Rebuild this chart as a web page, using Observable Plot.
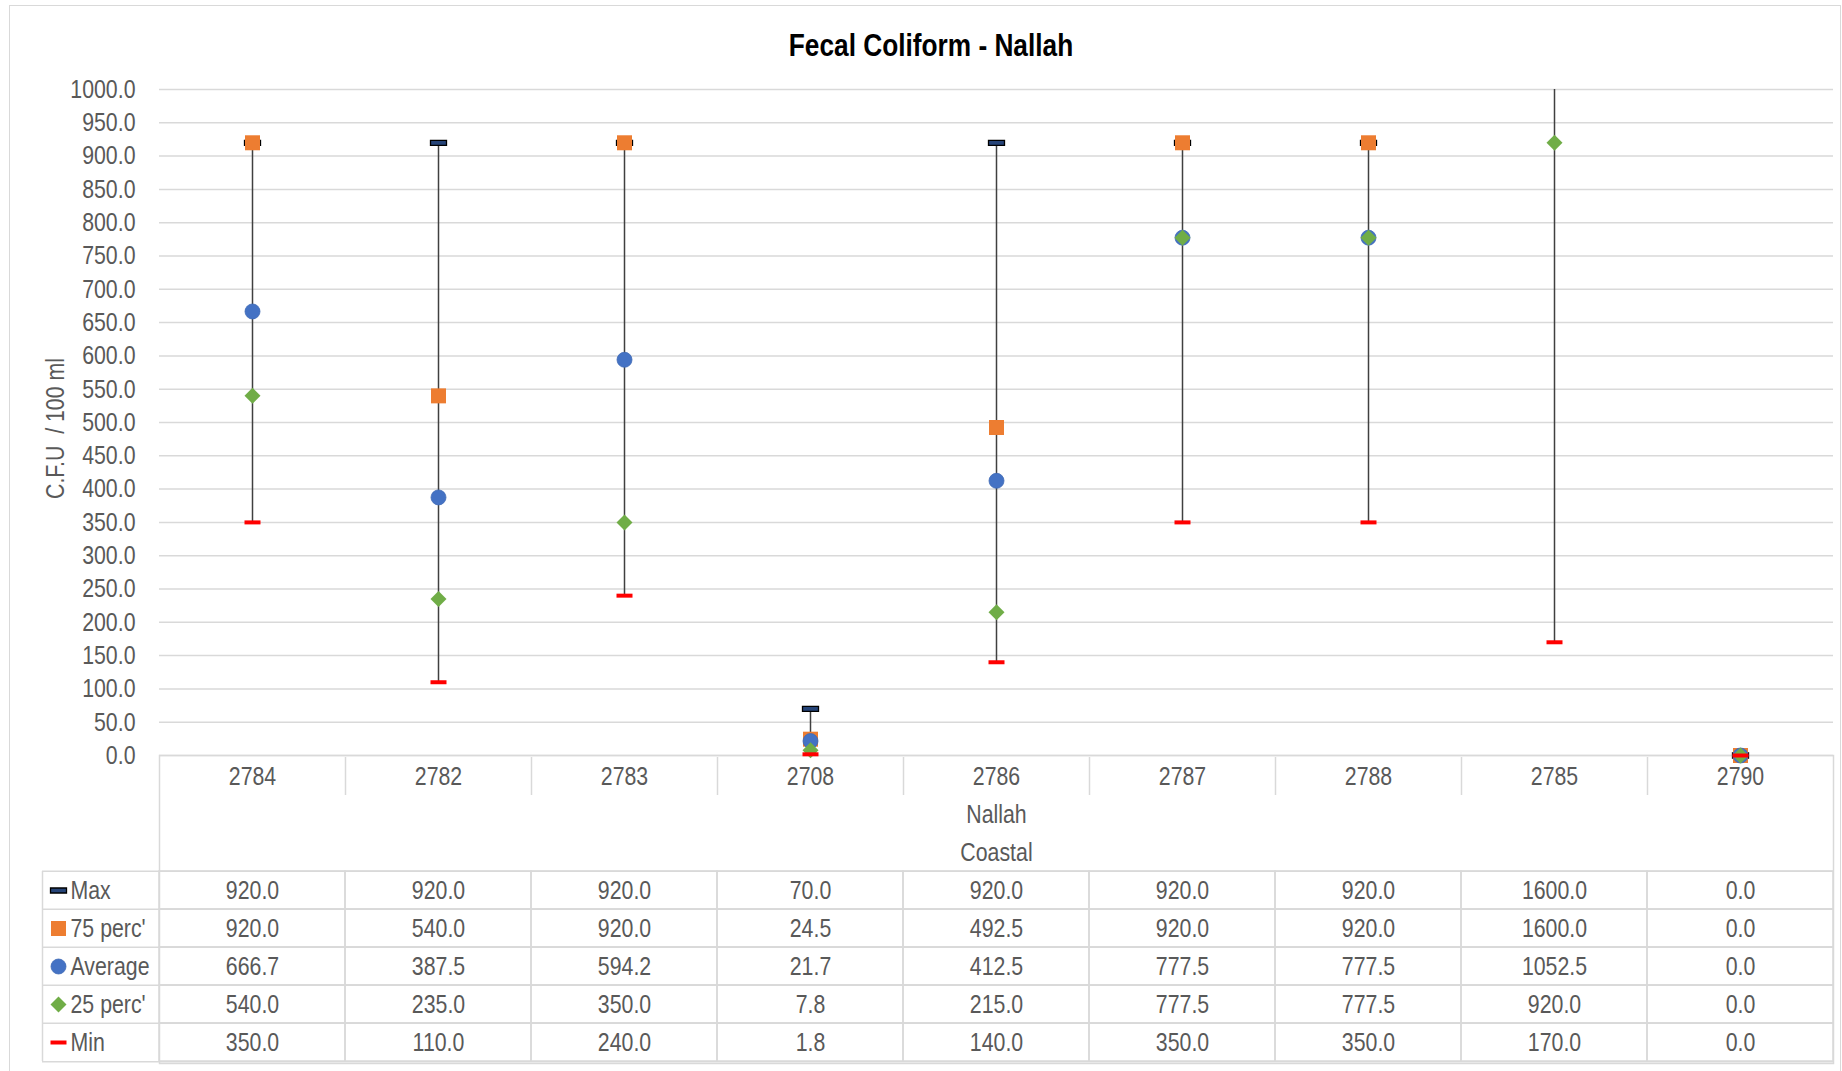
<!DOCTYPE html>
<html>
<head>
<meta charset="utf-8">
<script src="https://cdn.jsdelivr.net/npm/d3@7"></script>
<script src="https://cdn.jsdelivr.net/npm/@observablehq/plot@0.6"></script>
<style>
html,body{margin:0;padding:0;background:#fff;overflow:hidden;}
#root{position:relative;width:1842px;height:1071px;overflow:hidden;font-family:"Liberation Sans",Arial,sans-serif;}
#border{position:absolute;left:9px;top:5px;width:1832px;height:1070px;border:1.5px solid #d9d9d9;box-sizing:border-box;}
#title{position:absolute;left:0;width:1862px;top:26px;text-align:center;font-weight:bold;font-size:32px;line-height:38px;color:#000;transform:scaleX(0.82);transform-origin:931px 0;}
.layer{position:absolute;left:0;}
#table{top:745px;}
#chart{top:0;}
</style>
</head>
<body>
<div id="root">
  <div id="border"></div>
  <div id="table" class="layer"></div>
  <div id="chart" class="layer"></div>
  <div id="title"></div>
</div>
<script>
// ---------- data ----------
const title = "Fecal Coliform - Nallah";
const yLabel = "C.F.U  / 100 ml";
const categories = ["2784","2782","2783","2708","2786","2787","2788","2785","2790"];
const groupLabel = "Nallah";
const superGroupLabel = "Coastal";
const seriesNames = ["Max","75 perc'","Average","25 perc'","Min"];
const maxVals = [920,920,920,70,920,920,920,1600,0];
const p75Vals = [920,540,920,24.5,492.5,920,920,1600,0];
const avgVals = [666.7,387.5,594.2,21.7,412.5,777.5,777.5,1052.5,0];
const p25Vals = [540,235,350,7.8,215,777.5,777.5,920,0];
const minVals = [350,110,240,1.8,140,350,350,170,0];
const yTicks = [0,50,100,150,200,250,300,350,400,450,500,550,600,650,700,750,800,850,900,950,1000];

// ---------- layout / style ----------
const W = 1842, mL = 159, mR = 9;
const colW = (W - mL - mR) / categories.length;
const legendW = 117;
const rowH = 38.5;
const fontFamily = '"Liberation Sans",Arial,sans-serif';
const narrow = 0.82; // Arial Narrow look
const textColor = "#595959";
const gridColor = "#d9d9d9";

const rectSym = (w, h) => ({draw(ctx){ ctx.rect(-w/2, -h/2, w, h); }});
const diamondSym = (w, h) => ({draw(ctx){ ctx.moveTo(0,-h/2); ctx.lineTo(w/2,0); ctx.lineTo(0,h/2); ctx.lineTo(-w/2,0); ctx.closePath(); }});

const seriesStyle = {
  "Max":      {symbol: rectSym(16,5), fill: "#264478", stroke: "#000", strokeWidth: 1.3},
  "75 perc'": {symbol: rectSym(15,15), fill: "#ED7D31"},
  "Average":  {symbol: "circle", r: 7.5, fill: "#4472C4", stroke: "#3F69B5", strokeWidth: 0.8},
  "25 perc'": {symbol: diamondSym(16,16), fill: "#70AD47"},
  "Min":      {symbol: rectSym(16,4), fill: "#FF0000"}
};
const seriesValues = {"Max": maxVals, "75 perc'": p75Vals, "Average": avgVals, "25 perc'": p25Vals, "Min": minVals};

const records = categories.map((cat, i) => ({cat, max: maxVals[i], min: minVals[i]}));
const cells = seriesNames.flatMap(row => categories.map((cat, i) => ({cat, row, value: seriesValues[row][i]})));

document.getElementById("title").textContent = title;

function condense(svg, k) {
  svg.querySelectorAll("text").forEach(t => {
    let tr = t.getAttribute("transform");
    if (!tr) {
      const x = t.getAttribute("x") || 0, y = t.getAttribute("y") || 0;
      t.removeAttribute("x"); t.removeAttribute("y");
      tr = `translate(${x},${y})`;
    }
    t.setAttribute("transform", `${tr} scale(${k},1)`);
  });
}

// ---------- chart ----------
const pointMarks = seriesNames.map(name =>
  Plot.dot(
    categories.map((cat, i) => ({cat, v: seriesValues[name][i]})).filter(d => d.v <= 1000),
    {x: "cat", y: "v", ...seriesStyle[name]}
  )
);

const chart = Plot.plot({
  width: W, height: 770,
  marginLeft: mL, marginRight: mR, marginTop: 89, marginBottom: 15,
  style: {fontFamily, fontSize: "26px", color: textColor, background: "transparent", overflow: "visible"},
  x: {type: "band", domain: categories, padding: 0, axis: null},
  y: {domain: [0, 1000]},
  marks: [
    Plot.gridY(yTicks, {stroke: gridColor, strokeOpacity: 1, strokeWidth: 1.5}),
    Plot.axisY(yTicks, {tickSize: 0, tickPadding: 24, tickFormat: d => d.toFixed(1), fontSize: 26, fill: textColor, label: null}),
    Plot.text([yLabel], {frameAnchor: "left", textAnchor: "middle", dx: -104, dy: 6, rotate: -90, fontSize: 26, fill: textColor}),
    Plot.ruleX(records, {x: "cat", y1: "min", y2: "max", stroke: "#404040", strokeWidth: 1.5, clip: true}),
    ...pointMarks
  ]
});
condense(chart, narrow);
document.getElementById("chart").appendChild(chart);

// ---------- data table ----------
const rowKeys = ["cat", "grp", "sup", ...seriesNames];
const legendDots = seriesNames.map(name =>
  Plot.dot([name], {y: d => d, frameAnchor: "left", dx: -101, ...seriesStyle[name]})
);
const table = Plot.plot({
  width: W, height: 10 + rowH * rowKeys.length + 10,
  marginLeft: mL, marginRight: mR, marginTop: 10, marginBottom: 10,
  style: {fontFamily, fontSize: "26px", color: textColor, background: "transparent", overflow: "visible"},
  x: {type: "band", domain: categories, padding: 0, axis: null},
  y: {type: "band", domain: rowKeys, padding: 0, axis: null},
  marks: [
    Plot.cell(cells, {x: "cat", y: "row", fill: "none", stroke: gridColor, strokeWidth: 1.5, inset: 0}),
    Plot.frame({stroke: gridColor, strokeWidth: 1.5}),
    Plot.tickX(categories.slice(1), {x: d => d, y: () => "cat", dx: -colW/2, stroke: gridColor, strokeWidth: 1.5}),
    Plot.tickX(seriesNames, {x: () => categories[0], y: d => d, dx: -colW/2 - legendW, stroke: gridColor, strokeWidth: 1.5}),
    Plot.ruleY(seriesNames, {y: d => d, dy: -rowH/2, insetLeft: -legendW, stroke: gridColor, strokeWidth: 1.5}),
    Plot.ruleY(seriesNames.slice(-1), {y: d => d, dy: rowH/2, insetLeft: -legendW, stroke: gridColor, strokeWidth: 1.5}),
    Plot.text(categories, {x: d => d, y: () => "cat", fill: textColor, fontSize: 26}),
    Plot.text([groupLabel], {y: () => "grp", frameAnchor: "middle", fill: textColor, fontSize: 26}),
    Plot.text([superGroupLabel], {y: () => "sup", frameAnchor: "middle", fill: textColor, fontSize: 26}),
    Plot.text(cells, {x: "cat", y: "row", text: d => d.value.toFixed(1), fill: textColor, fontSize: 26}),
    Plot.text(seriesNames, {y: d => d, frameAnchor: "left", dx: -89, textAnchor: "start", fill: textColor, fontSize: 26}),
    ...legendDots
  ]
});
condense(table, narrow);
document.getElementById("table").appendChild(table);
</script>
</body>
</html>
